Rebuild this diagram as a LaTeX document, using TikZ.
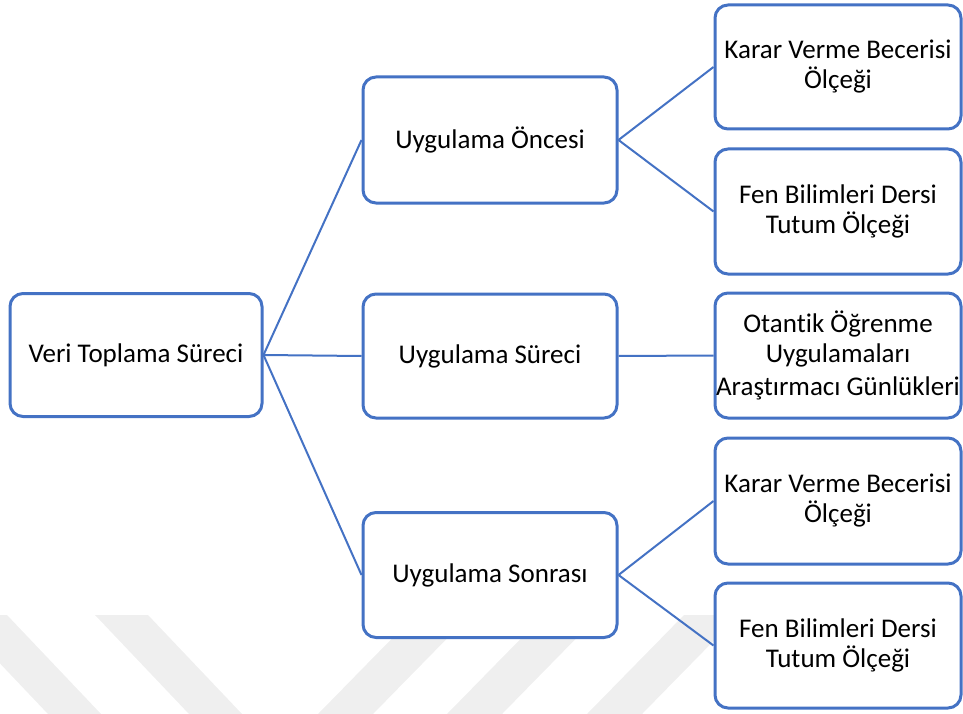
\documentclass[tikz,border=0pt]{standalone}
\usepackage{fontspec}
\setmainfont{Carlito}[Ligatures=NoCommon]
\definecolor{offblue}{HTML}{4472C4}
\definecolor{wmgray}{HTML}{EFEFEF}
\begin{document}
\begin{tikzpicture}[x=1pt,y=-1pt,
  box/.style={draw=offblue, line width=3pt, rounded corners=13pt, fill=white,
    align=center, inner sep=0pt, font=\fontsize{27}{30}\selectfont},
  conn/.style={draw=offblue, line width=2pt}]
\useasboundingbox (0,0) rectangle (963,714);
% watermark stripes
\foreach \a in {-46,95} {
  \fill[wmgray] (\a,615) -- (\a+53,615) -- (\a+147,714) -- (\a+94,714) -- cycle;
}
\foreach \b in {318,447,587} {
  \fill[wmgray] (\b,714) -- (\b+55,714) -- (\b+152,615) -- (\b+97,615) -- cycle;
}
% nodes
\node[box, minimum width=252pt, minimum height=123pt] (root) at (136,355) {Veri Toplama Süreci};
\node[box, minimum width=254pt, minimum height=126pt] (pre) at (490,140) {Uygulama Öncesi};
\node[box, minimum width=254pt, minimum height=124pt] (dur) at (490,356) {Uygulama Süreci};
\node[box, minimum width=254pt, minimum height=125pt] (post) at (490,575) {Uygulama Sonrası};
\node[box, minimum width=246pt, minimum height=124pt] (r1) at (838,67) {Karar Verme Becerisi\\Ölçeği};
\node[box, minimum width=246pt, minimum height=125pt] (r2) at (838,211.5) {Fen Bilimleri Dersi\\Tutum Ölçeği};
\node[box, minimum width=246pt, minimum height=125pt] (r3) at (838,355.5) {Otantik Öğrenme\\Uygulamaları\\[3pt]Araştırmacı Günlükleri};
\node[box, minimum width=246pt, minimum height=126pt] (r4) at (838,501) {Karar Verme Becerisi\\Ölçeği};
\node[box, minimum width=246pt, minimum height=125pt] (r5) at (838,645.5) {Fen Bilimleri Dersi\\Tutum Ölçeği};
% connectors
\draw[conn] (root.east) -- (pre.west);
\draw[conn] (root.east) -- (dur.west);
\draw[conn] (root.east) -- (post.west);
\draw[conn] (pre.east) -- (r1.west);
\draw[conn] (pre.east) -- (r2.west);
\draw[conn] (dur.east) -- (r3.west);
\draw[conn] (post.east) -- (r4.west);
\draw[conn] (post.east) -- (r5.west);
\end{tikzpicture}
\end{document}
